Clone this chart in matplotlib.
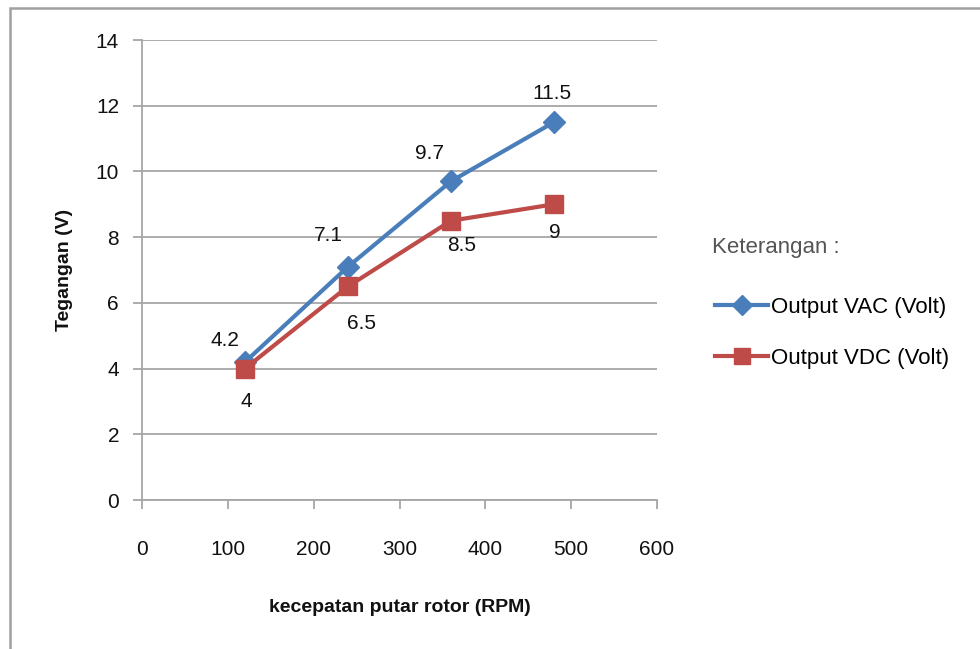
import matplotlib.pyplot as plt
from matplotlib.patches import Rectangle

# rotor speed vs generator voltage
rpm = [120, 240, 360, 480]
vac = [4.2, 7.1, 9.7, 11.5]
vdc = [4.0, 6.5, 8.5, 9.0]

x_ticks = [0, 100, 200, 300, 400, 500, 600]
y_ticks = [0, 2, 4, 6, 8, 10, 12, 14]

# label placement (pixels from the marker)
vac_offsets = [(-20, 22), (-20, 31), (-21, 28), (-2, 29)]
vdc_offsets = [(1, -33), (14, -37), (11, -25), (1, -28)]

BLUE = '#4a7ebb'
RED = '#be4b48'
GRID = '#a6a6a6'
TXT = '#111111'

plt.rcParams['font.family'] = ['Liberation Sans', 'DejaVu Sans']

fig = plt.figure(figsize=(9.8, 6.49), dpi=100)
fig.patches.append(Rectangle((10 / 980, -0.1), 1.2, 1 - 8 / 649 + 0.1,
                             transform=fig.transFigure, fill=False,
                             edgecolor='#a0a0a0', linewidth=1.8))

ax = fig.add_axes([142 / 980, 1 - 500 / 649, 515 / 980, 460 / 649])

ax.plot(rpm, vac, color=BLUE, linewidth=3, marker='D', markersize=11,
        label='Output VAC (Volt)')
ax.plot(rpm, vdc, color=RED, linewidth=3, marker='s', markersize=13,
        label='Output VDC (Volt)')

for x, y, off in zip(rpm, vac, vac_offsets):
    ax.annotate('%g' % y, (x, y), xytext=off, textcoords='offset pixels',
                ha='center', va='center', fontsize=15, color=TXT)
for x, y, off in zip(rpm, vdc, vdc_offsets):
    ax.annotate('%g' % y, (x, y), xytext=off, textcoords='offset pixels',
                ha='center', va='center', fontsize=15, color=TXT)

ax.set_xlim(0, 600)
ax.set_ylim(0, 14)
ax.set_xticks(x_ticks)
ax.set_yticks(y_ticks)
ax.grid(axis='y', color=GRID, linewidth=1.3)
ax.set_axisbelow(True)
for side in ['top', 'right']:
    ax.spines[side].set_visible(False)
for side in ['left', 'bottom']:
    ax.spines[side].set_color(GRID)
    ax.spines[side].set_linewidth(1.3)
ax.tick_params(axis='both', color=GRID, width=1.3, length=6.5, labelsize=15,
               labelcolor=TXT)
ax.tick_params(axis='y', pad=10)
ax.tick_params(axis='x', pad=22)

ax.set_xlabel('kecepatan putar rotor (RPM)', fontsize=14, fontweight='bold',
              labelpad=29, color=TXT)
ax.set_ylabel('Tegangan (V)', fontsize=14, fontweight='bold', labelpad=16,
              color=TXT)

fig.text(712 / 980, 1 - 247 / 649, 'Keterangan :', fontsize=16,
         color='#555555', va='center')
ax.legend(loc='upper left', bbox_to_anchor=(715 / 980, 1 - 297 / 649),
          bbox_transform=fig.transFigure, frameon=False, fontsize=16,
          handlelength=2.4, handletextpad=0.1, labelspacing=1.35,
          borderpad=0, borderaxespad=0, markerscale=0.9)

fig.savefig('out.png', dpi=100)
